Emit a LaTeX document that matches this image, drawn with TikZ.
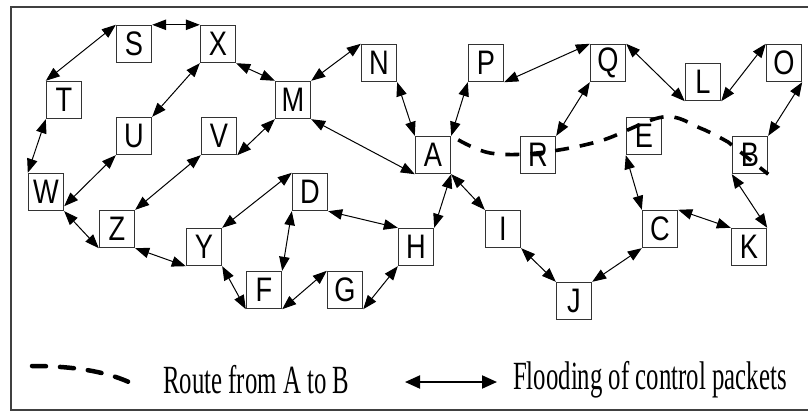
\documentclass[tikz,border=0pt]{standalone}
\usepackage{fontspec}
\usetikzlibrary{arrows.meta}
\newfontfamily\boxfont[FakeStretch=0.8]{Liberation Sans}
\newfontfamily\legfont[FakeStretch=0.62]{Liberation Serif}
\begin{document}
\begin{tikzpicture}[x=1pt,y=-1pt,
  nbox/.style={draw=black!80, line width=1.4pt, minimum width=35pt, minimum height=37pt,
    inner sep=0pt, font=\boxfont\fontsize{34}{34}\selectfont},
  flood/.style={{Triangle[length=14pt,width=10.5pt]}-{Triangle[length=14pt,width=10.5pt]}, line width=1pt},
  route/.style={line width=3.6pt, dash pattern=on 14pt off 11pt},
  legroute/.style={line width=4.5pt, line cap=round, dash pattern=on 14pt off 14pt},
  legarrow/.style={{Triangle[length=15pt,width=13pt]}-{Triangle[length=15pt,width=13pt]}, line width=2pt},
  legtext/.style={anchor=west, inner sep=0pt, font=\legfont\fontsize{40}{40}\selectfont}]
\useasboundingbox (0,0) rectangle (808,412);
\draw[black!75, line width=1.8pt] (11,7) rectangle (812,410);
% nodes
\node[nbox] (S) at (134,44) {S};
\node[nbox] (X) at (218,44) {X};
\node[nbox] (T) at (64,100) {T};
\node[nbox] (U) at (134,136) {U};
\node[nbox] (V) at (219,136) {V};
\node[nbox] (M) at (293,100) {M};
\node[nbox] (N) at (379,63) {N};
\node[nbox] (P) at (486,63) {P};
\node[nbox] (A) at (433,155) {A};
\node[nbox] (R) at (538,155) {R};
\node[nbox] (Q) at (608,63) {Q};
\node[nbox] (L) at (703,82) {L};
\node[nbox] (O) at (784,63) {O};
\node[nbox] (E) at (644,136) {E};
\node[nbox] (B) at (750,155) {B};
\node[nbox] (W) at (46,192) {W};
\node[nbox] (Z) at (117,229) {Z};
\node[nbox] (Y) at (204,247) {Y};
\node[nbox] (F) at (264,290) {F};
\node[nbox] (D) at (310,192) {D};
\node[nbox] (H) at (416,247) {H};
\node[nbox] (G) at (345,290) {G};
\node[nbox] (I) at (503,229) {I};
\node[nbox] (C) at (660,229) {C};
\node[nbox] (K) at (749,247) {K};
\node[nbox] (J) at (574,301) {J};
% flooding connectors
\draw[flood] (S.north east) -- (X.north west);
\draw[flood] (S.north west) -- (T.north west);
\draw[flood] (T.south west) -- (W.north west);
\draw[flood] (X.south west) -- (U.north east);
\draw[flood] (X.south east) -- (M.north west);
\draw[flood] (U.south west) -- ([yshift=5pt]W.south east);
\draw[flood] (V.south east) -- (M.south west);
\draw[flood] (V.south west) -- (Z.north east);
\draw[flood] (W.south east) -- (Z.south west);
\draw[flood] (Z.south east) -- (Y.south west);
\draw[flood] (Y.south east) -- (F.south west);
\draw[flood] (D.north west) -- (Y.north east);
\draw[flood] (D.south west) -- (F.north east);
\draw[flood] (D.south east) -- (H.north west);
\draw[flood] (F.south east) -- (G.north west);
\draw[flood] (G.south east) -- (H.south west);
\draw[flood] (H.north east) -- (A.south east);
\draw[flood] (A.south east) -- (I.north west);
\draw[flood] (I.south east) -- (J.north west);
\draw[flood] (J.north east) -- (C.south west);
\draw[flood] (C.north west) -- (E.south west);
\draw[flood] (C.north east) -- (K.north west);
\draw[flood] (K.north east) -- (B.south west);
\draw[flood] (O.south east) -- (B.north east);
\draw[flood] (O.north west) -- (L.south east);
\draw[flood] (Q.north east) -- (L.south west);
\draw[flood] (Q.south west) -- (R.north east);
\draw[flood] (Q.north west) -- (P.south east);
\draw[flood] (P.south west) -- (A.north east);
\draw[flood] (N.south east) -- (A.north west);
\draw[flood] (N.north west) -- (M.north east);
\draw[flood] (M.south east) -- (A.south west);
% route from A to B
\coordinate (r0) at ([shift={(7,4)}]A.north east);
\coordinate (r1) at (490,153);
\coordinate (r2) at (537,153);
\coordinate (r3) at (600,141);
\coordinate (r4) at (663,117);
\coordinate (r5) at (700,128);
\coordinate (r6) at (728,142);
\draw[route] plot[smooth, tension=0.6] coordinates {(r0) (r1) (r2) (r3) (r4) (r5) (r6)} -- (B.south east);
% legend
\coordinate (l1) at (32,366);
\coordinate (l2) at (135,385);
\draw[legroute] (l1) .. controls (75,366) and (110,372) .. (l2);
\node[legtext] (rt) at (163,380) {Route from A to B};
\coordinate (la) at (405,382);
\coordinate (lb) at (497,382);
\draw[legarrow] (la) -- (lb);
\node[legtext] (ft) at (513,380) {Flooding of control packets};
\end{tikzpicture}
\end{document}
